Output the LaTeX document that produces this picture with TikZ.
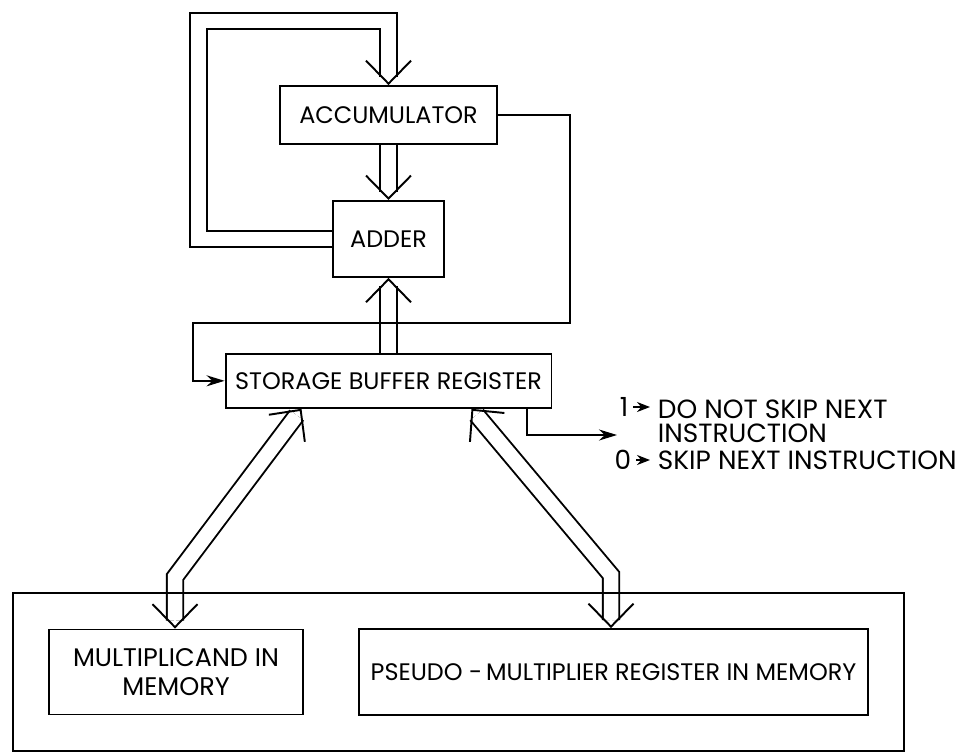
\documentclass[tikz,border=0pt]{standalone}
\usepackage{fontspec}
\setmainfont{Poppins}
\usepackage{tikz}
\usetikzlibrary{arrows.meta,positioning,fit,calc}

\tikzset{busvee/.tip={Straight Barb[length=0.46cm,width=0.9cm,color=black]}}

\begin{document}
\begin{tikzpicture}[
    x=0.02cm, y=-0.02cm,
    line width=1.1pt,
    box/.style={rectangle, draw, align=center, inner sep=0pt, font=\fontsize{13.6}{16}\selectfont},
    lbl/.style={inner sep=0pt, align=left, font=\fontsize{15}{15.4}\selectfont},
    arrow/.style={-{Stealth[length=0.36cm,width=0.22cm]}},
    tick/.style={-{Stealth[length=0.26cm,width=0.2cm]}, shorten <=0.08cm, shorten >=0.14cm},
    bus/.style={draw=white, -{busvee},
        preaction={draw=black, double=white, double distance=0.29cm, -, shorten >=0.16cm}},
    bibus/.style={draw=white, {busvee}-{busvee},
        preaction={draw=black, double=white, double distance=0.29cm, -, shorten >=0.16cm, shorten <=0.16cm}}
]
    \useasboundingbox (0,0) rectangle (964,752);

    \node[box, minimum width=4.34cm, minimum height=1.16cm] (acc) at (388.5,115) {ACCUMULATOR};
    \node[box, minimum width=2.22cm, minimum height=1.52cm, below=1.1cm of acc] (adder) {ADDER};
    \node[box, minimum width=6.52cm, minimum height=1.08cm, below=1.5cm of adder] (sbr) {STORAGE BUFFER REGISTER};
    \node[box, minimum width=5.08cm, minimum height=1.7cm, font=\fontsize{14.5}{16.5}\selectfont] (mcand) at (176,672) {MULTIPLICAND IN\\MEMORY};
    \node[box, minimum width=10.18cm, minimum height=1.72cm] (pseudo) at (613.5,672) {PSEUDO -\,MULTIPLIER REGISTER IN MEMORY};

    % double-line transfer paths
    \coordinate (loop) at (198.5,21);
    \coordinate (lbend) at (175,577);
    \coordinate (rbend) at (611,575);
    \draw[bus] (adder.west) -| (loop) -| (acc.north);
    \draw[bus] (acc.south) -- (adder.north);
    \draw[bus] (sbr.north -| adder.south) -- (adder.south);
    \draw[bibus] ($(sbr.south)+(-87,0)$) -- (lbend) -- (lbend |- mcand.north);
    \draw[bibus] ($(sbr.south)+(83,0)$) -- (rbend) -- (rbend |- pseudo.north);

    % single lines
    \coordinate (fbR) at (570,323);
    \coordinate (fbL) at (193,323);
    \coordinate (outR) at (617,435);
    \draw[arrow] (acc.east) -| (fbR) -- (fbL) |- (sbr.west);
    \draw[arrow] ($(sbr.south east)+(-25,0)$) |- (outR);

    \node[draw, fit=(mcand)(pseudo), inner sep=0.7cm] (mem) {};

    % skip labels
    \node[lbl] (one) at (624,407) {1};
    \node[lbl, anchor=north west] (dns) at (657,399) {DO NOT SKIP NEXT\\[-1.8pt]INSTRUCTION};
    \node[lbl] (zero) at (623,460) {0};
    \node[lbl, anchor=west] (skip) at (657,460) {SKIP NEXT INSTRUCTION};
    \draw[tick] (one) -- (one -| dns.west);
    \draw[tick] (zero) -- (skip);
\end{tikzpicture}
\end{document}
